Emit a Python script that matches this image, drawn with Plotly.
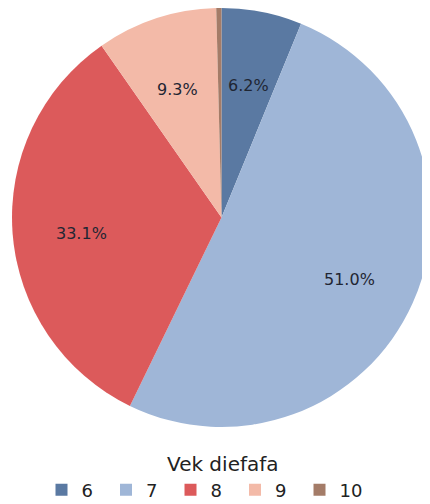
import math
import plotly.graph_objects as go

categories = ["6", "7", "8", "9", "10"]
values = [6.2, 51.0, 33.1, 9.3, 0.4]
shown_labels = [True, True, True, True, False]
colors = ["#5a79a2", "#9fb6d7", "#dc5a5b", "#f3baa8", "#a47c68"]
legend_title = "Vek diefafa"

W, H = 430, 504
dom_x = [0.0093, 0.9837]
dom_y = [0.1687, 1.0]
label_r = 0.668
label_dy_px = 5
FONT = "DejaVu Sans"

fig = go.Figure(go.Pie(
    labels=categories,
    values=values,
    sort=False,
    direction="clockwise",
    rotation=0,
    marker=dict(colors=colors, line=dict(width=0)),
    textinfo="none",
    domain=dict(x=dom_x, y=dom_y),
    showlegend=True,
    hoverinfo="label+percent",
))

# percentage labels placed at mid-angle of each slice
total = sum(values)
cx = (dom_x[0] + dom_x[1]) / 2 * W
cy = (dom_y[0] + dom_y[1]) / 2 * H
R = min((dom_x[1] - dom_x[0]) * W, (dom_y[1] - dom_y[0]) * H) / 2
cum = 0.0
for v, show in zip(values, shown_labels):
    mid = (cum + v / 2) / total * 2 * math.pi
    cum += v
    if not show:
        continue
    px = cx + label_r * R * math.sin(mid)
    py = cy + label_r * R * math.cos(mid) - label_dy_px
    fig.add_annotation(
        x=px / W, y=py / H, xref="paper", yref="paper",
        text=f"{v / total * 100:.1f}%", showarrow=False,
        font=dict(family=FONT, size=16, color="#1f2633"),
        xanchor="center", yanchor="middle",
    )

# legend title
fig.add_annotation(
    x=0.5, y=0.0962, xref="paper", yref="paper",
    text=legend_title, showarrow=False,
    font=dict(family=FONT, size=20, color="#222222"),
    xanchor="center", yanchor="middle",
)

fig.update_layout(
    width=W, height=H,
    margin=dict(l=0, r=0, t=0, b=0, autoexpand=False),
    paper_bgcolor="white",
    font=dict(family=FONT, color="#222222"),
    legend=dict(
        orientation="h",
        x=0.4535, xanchor="center",
        y=0.0437, yanchor="middle",
        font=dict(size=18),
        traceorder="normal",
        itemwidth=30,
        entrywidth=19.5,
        entrywidthmode="pixels",
    ),
)

fig.write_html("out.html")
